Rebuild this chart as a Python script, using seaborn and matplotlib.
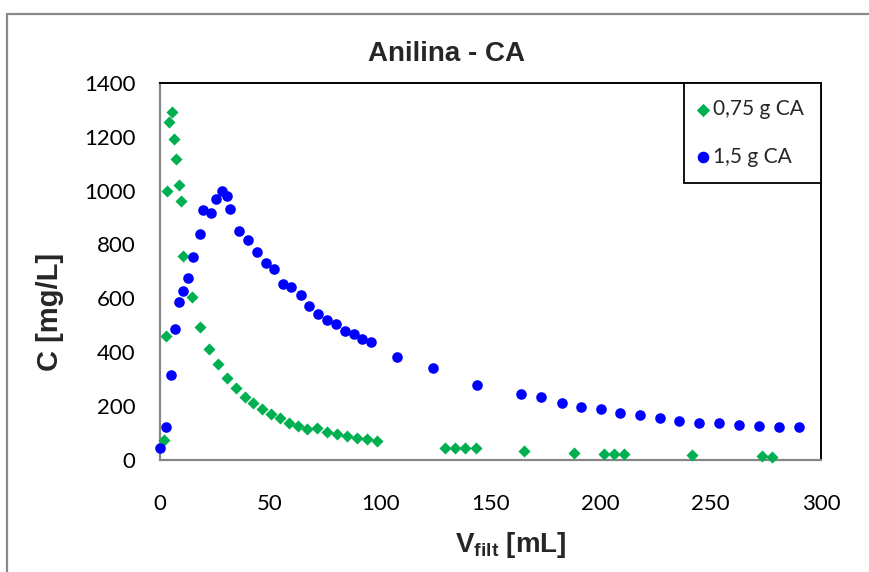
import matplotlib
matplotlib.use("Agg")
import matplotlib.pyplot as plt
import seaborn as sns
import pandas as pd
from matplotlib.patches import Rectangle

# ---------------- data ----------------
v_075 = [1.8, 2.7, 3.5, 4.4, 5.5, 6.5, 7.6, 8.7, 9.6, 10.5, 14.6, 18.4, 22.5, 26.5,
         30.4, 34.5, 38.6, 42.5, 46.6, 50.7, 54.5, 58.6, 62.7, 66.8, 71.4, 76.0,
         80.4, 84.9, 89.4, 93.9, 98.5, 129.4, 134.2, 138.7, 143.3, 165.5, 188.0,
         201.5, 205.9, 210.5, 241.6, 273.2, 277.6]
c_075 = [73, 459, 997, 1255, 1290, 1193, 1117, 1021, 963, 757, 605, 494, 411, 358,
         306, 266, 235, 210, 189, 170, 155, 139, 128, 115, 120, 103,
         95, 89, 83, 77, 72, 45, 44, 43, 44, 34, 27,
         23, 23, 23, 18, 13, 12]

v_15 = [0.0, 2.7, 5.2, 7.2, 8.9, 10.8, 12.7, 15.2, 18.1, 19.9, 23.4, 25.4, 28.2, 30.7,
        32.0, 36.2, 39.9, 44.2, 48.1, 51.9, 56.0, 59.8, 64.3, 67.9, 72.0, 76.0, 80.2,
        84.3, 88.0, 92.0, 96.0, 107.6, 124.2, 144.1, 164.1, 173.2, 182.5, 191.1, 200.1,
        208.9, 218.0, 227.1, 235.8, 244.8, 253.9, 262.9, 272.0, 281.0, 290.1]
c_15 = [44, 122, 315, 487, 586, 627, 675, 755, 840, 928, 915, 968, 998, 980,
        930, 851, 818, 773, 730, 710, 655, 643, 612, 573, 542, 519, 505,
        478, 469, 448, 437, 384, 340, 277, 244, 232, 213, 195, 188,
        176, 168, 157, 146, 139, 139, 131, 128, 121, 121]

labels = ["0,75 g CA", "1,5 g CA"]
x_ticks = [0, 50, 100, 150, 200, 250, 300]
y_ticks = [0, 200, 400, 600, 800, 1000, 1200, 1400]
title = "Anilina - CA"

# ---------------- style ----------------
sns.set_style("white")
plt.rcParams["font.family"] = ["Lato", "DejaVu Sans"]
plt.rcParams["mathtext.fontset"] = "custom"
plt.rcParams["mathtext.rm"] = "Liberation Sans:bold"
plt.rcParams["mathtext.it"] = "Liberation Sans:bold"
plt.rcParams["mathtext.bf"] = "Liberation Sans:bold"

W, H = 869, 572
fig = plt.figure(figsize=(W / 100, H / 100), dpi=100)
fig.patch.set_facecolor("white")

# outer chart border
fig.patches.append(Rectangle((7.5 / W, 0 - 0.1), 1.2, 1 - 13.5 / H + 0.1,
                             transform=fig.transFigure, fill=False,
                             edgecolor="#8a8a8a", linewidth=1.6, clip_on=False))

left, right, top, bottom = 159.6, 821.0, 82.8, 460.0
ax = fig.add_axes([left / W, 1 - bottom / H, (right - left) / W, (bottom - top) / H])

green = "#00B050"
blue = "#0000FF"

df1 = pd.DataFrame({"V": v_075, "C": c_075})
df2 = pd.DataFrame({"V": v_15, "C": c_15})
sns.scatterplot(data=df1, x="V", y="C", ax=ax, marker="D", s=38, color=green,
                linewidth=0, label=labels[0], clip_on=False, zorder=3)
sns.scatterplot(data=df2, x="V", y="C", ax=ax, marker="o", s=58, color=blue,
                linewidth=0, label=labels[1], clip_on=False, zorder=3)

ax.set_xlim(0, 300)
ax.set_ylim(0, 1400)
ax.set_xticks(x_ticks)
ax.set_yticks(y_ticks)
ax.set_xticklabels([str(t) for t in x_ticks])
ax.set_yticklabels([str(t) for t in y_ticks])
ax.set_xlabel("")
ax.set_ylabel("")

gray = "#868686"
for s in ["left", "bottom"]:
    ax.spines[s].set_color(gray)
    ax.spines[s].set_linewidth(1.6)
for s in ["top", "right"]:
    ax.spines[s].set_color("black")
    ax.spines[s].set_linewidth(1.4)
    ax.spines[s].set_visible(True)

ax.tick_params(axis="x", direction="out", length=5.2, width=1.4, color=gray,
               labelsize=16, pad=19, labelcolor="black")
ax.tick_params(axis="y", direction="in", length=6, width=1.4, color=gray,
               labelsize=16, pad=17.5, labelcolor="black")
ax.grid(False)

leg = ax.legend(loc="upper right", bbox_to_anchor=(1.0, 1.0), borderaxespad=0,
                frameon=True, fancybox=False, shadow=False, fontsize=15,
                scatterpoints=1, handlelength=0.15, handletextpad=0.45,
                borderpad=0.8, labelspacing=1.3, markerscale=1.1)
frame = leg.get_frame()
frame.set_edgecolor("black")
frame.set_linewidth(1.3)
frame.set_facecolor("white")
frame.set_alpha(1)

fig.text(446 / W, 1 - 61 / H, title, ha="center", va="baseline",
         fontsize=20, fontweight="bold", family="Liberation Sans")
fig.text(511 / W, 1 - 552 / H, r"V$_{\rm filt}$ [mL]", ha="center", va="baseline",
         fontsize=20, fontweight="bold", family="Liberation Sans")
fig.text(50 / W, 1 - 312 / H, "C [mg/L]", ha="center", va="center", rotation=90,
         fontsize=21, fontweight="bold", family="Liberation Sans")

fig.savefig("out.png", dpi=100)
